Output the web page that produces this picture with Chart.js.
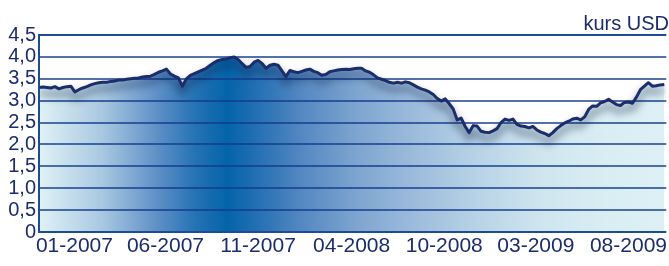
<!DOCTYPE html>
<html lang="pl">
<head>
<meta charset="utf-8">
<title>kurs USD</title>
<script src="https://cdn.jsdelivr.net/npm/chart.js@4.4.1/dist/chart.umd.min.js"></script>
<style>
    html, body {
        margin: 0;
        padding: 0;
        background: #ffffff;
    }
    #chartBox {
        width: 669px;
        height: 266px;
        overflow: hidden;
    }
</style>
</head>
<body>
<div id="chartBox">
    <canvas id="usdChart" width="669" height="266"></canvas>
</div>
<script>
// Weekly USD rate (PLN), one value per week
const rates = [
    3.30, 3.31, 3.30, 3.29, 3.32, 3.27, 3.30, 3.32, 3.33, 3.20,
    3.25, 3.29, 3.32, 3.36, 3.39, 3.41, 3.42, 3.42, 3.44, 3.45,
    3.47, 3.47, 3.49, 3.50, 3.51, 3.52, 3.54, 3.55, 3.56, 3.60,
    3.65, 3.68, 3.72, 3.61, 3.56, 3.52, 3.33, 3.50, 3.58, 3.62,
    3.66, 3.70, 3.74, 3.81, 3.87, 3.92, 3.94, 3.95, 3.98, 4.00,
    3.94, 3.85, 3.76, 3.78, 3.88, 3.92, 3.85, 3.74, 3.81, 3.83,
    3.81, 3.68, 3.55, 3.69, 3.66, 3.64, 3.67, 3.70, 3.72, 3.67,
    3.64, 3.58, 3.60, 3.66, 3.68, 3.70, 3.71, 3.72, 3.71, 3.73,
    3.74, 3.74, 3.68, 3.65, 3.59, 3.52, 3.49, 3.46, 3.42, 3.40,
    3.42, 3.40, 3.43, 3.41, 3.36, 3.31, 3.27, 3.24, 3.20, 3.14,
    3.05, 2.99, 3.04, 2.93, 2.81, 2.56, 2.60, 2.41, 2.27, 2.43,
    2.42, 2.30, 2.28, 2.27, 2.31, 2.36, 2.50, 2.58, 2.55, 2.58,
    2.46, 2.42, 2.41, 2.38, 2.41, 2.33, 2.28, 2.25, 2.20, 2.27,
    2.36, 2.43, 2.49, 2.53, 2.58, 2.60, 2.56, 2.63, 2.80, 2.88,
    2.87, 2.95, 2.98, 3.03, 2.97, 2.91, 2.89, 2.96, 2.97, 2.94,
    3.08, 3.25, 3.33, 3.41, 3.33, 3.34, 3.36, 3.37
];

// Where the month labels sit (in weeks from the first value)
const tickWeeks = [8.9, 31.75, 55, 78.5, 101.75, 124.75, 148];
const tickLabels = ['01-2007', '06-2007', '11-2007', '04-2008', '10-2008', '03-2009', '08-2009'];

// Y axis range
const yMin = 0;
const yMax = 4.5;
const yStep = 0.5;

const FONT = "'Liberation Sans', Arial, sans-serif";
const NAVY = '#1b2d6b';

document.addEventListener('DOMContentLoaded', function() {
    initChart();
});

// Horizontal blue fill, dark around late 2007
function fillGradient(context) {
    const chart = context.chart;
    const area = chart.chartArea;
    if (!area) {
        return '#9dbcdc';
    }
    const g = chart.ctx.createLinearGradient(area.left, 0, area.right, 0);
    g.addColorStop(0.00, '#dff2f6');
    g.addColorStop(0.10, '#a9c8e1');
    g.addColorStop(0.19, '#5d8fc6');
    g.addColorStop(0.25, '#2472b4');
    g.addColorStop(0.30, '#0464a9');
    g.addColorStop(0.34, '#1f6db2');
    g.addColorStop(0.42, '#5588c2');
    g.addColorStop(0.51, '#7fa6d0');
    g.addColorStop(0.60, '#9dbcdc');
    g.addColorStop(0.70, '#b8d3e6');
    g.addColorStop(0.80, '#cfe5ef');
    g.addColorStop(0.90, '#d9eef3');
    g.addColorStop(1.00, '#dcf0f5');
    return g;
}

// Grid lines go over the fill but under the rate line.
// Datasets are drawn last index first, so the fill (index 1) comes before the line (index 0).
const gridOverFill = {
    id: 'gridOverFill',
    beforeDatasetDraw(chart, args) {
        if (args.index !== 0) return;
        const ctx = chart.ctx;
        const area = chart.chartArea;
        const yScale = chart.scales.y;
        ctx.save();
        ctx.lineWidth = 2;
        ctx.strokeStyle = 'rgba(18, 58, 140, 0.72)';
        yScale.ticks.forEach(t => {
            if (t.value === yMin || t.value === yMax) return;
            const y = Math.round(yScale.getPixelForValue(t.value));
            ctx.beginPath();
            ctx.moveTo(area.left, y);
            ctx.lineTo(area.right, y);
            ctx.stroke();
        });
        ctx.restore();
        // soft shadow under the rate line
        ctx.save();
        ctx.shadowColor = 'rgba(5, 20, 55, 0.75)';
        ctx.shadowBlur = 8;
        ctx.shadowOffsetY = 6;
    },
    afterDatasetDraw(chart, args) {
        if (args.index !== 0) return;
        chart.ctx.restore();
    },
    afterDatasetsDraw(chart) {
        const ctx = chart.ctx;
        const area = chart.chartArea;
        const yScale = chart.scales.y;
        ctx.save();
        ctx.lineWidth = 2;
        ctx.strokeStyle = '#1c4c94';
        [yMax, yMin].forEach(v => {
            const y = Math.round(yScale.getPixelForValue(v));
            ctx.beginPath();
            ctx.moveTo(area.left - 1, y);
            ctx.lineTo(area.right, y);
            ctx.stroke();
        });
        ctx.beginPath();
        ctx.moveTo(area.left, yScale.getPixelForValue(yMax));
        ctx.lineTo(area.left, yScale.getPixelForValue(yMin) + 1);
        ctx.stroke();
        ctx.restore();
    }
};

function initChart() {
    const points = rates.map((v, i) => ({ x: i, y: v }));
    const ctx = document.getElementById('usdChart').getContext('2d');

    new Chart(ctx, {
        type: 'line',
        data: {
            datasets: [
                {
                    label: 'kurs USD',
                    data: points,
                    borderColor: NAVY,
                    borderWidth: 3,
                    borderJoinStyle: 'round',
                    pointRadius: 0,
                    tension: 0,
                    fill: false
                },
                {
                    label: 'fill',
                    data: points,
                    borderWidth: 0,
                    pointRadius: 0,
                    tension: 0,
                    fill: 'origin',
                    backgroundColor: fillGradient
                }
            ]
        },
        options: {
            responsive: false,
            animation: false,
            devicePixelRatio: 1,
            layout: {
                padding: { left: 0, right: 0, top: 0, bottom: 0 }
            },
            plugins: {
                legend: { display: false },
                tooltip: { enabled: false },
                title: {
                    display: true,
                    text: 'kurs USD',
                    align: 'end',
                    color: NAVY,
                    font: { family: FONT, size: 20, weight: 'normal', lineHeight: 1 },
                    padding: { top: 14, bottom: 1 }
                }
            },
            scales: {
                x: {
                    type: 'linear',
                    min: 0,
                    max: rates.length - 0.5,
                    border: { display: false },
                    grid: { display: false, drawTicks: false },
                    afterBuildTicks: function(scale) {
                        scale.ticks = tickWeeks.map(w => ({ value: w }));
                    },
                    afterFit: function(scale) {
                        scale.height = 34;
                    },
                    ticks: {
                        autoSkip: false,
                        maxRotation: 0,
                        padding: 2,
                        color: NAVY,
                        font: { family: FONT, size: 21 },
                        callback: function(value) {
                            const i = tickWeeks.indexOf(value);
                            return i >= 0 ? tickLabels[i] : '';
                        }
                    }
                },
                y: {
                    min: yMin,
                    max: yMax,
                    border: { display: false },
                    grid: { display: false, drawTicks: false },
                    afterFit: function(scale) {
                        scale.width = 39;
                    },
                    ticks: {
                        stepSize: yStep,
                        autoSkip: false,
                        padding: 3,
                        color: NAVY,
                        font: { family: FONT, size: 20, lineHeight: 1 },
                        callback: function(value) {
                            return value === 0 ? '0' : value.toFixed(1).replace('.', ',');
                        }
                    }
                }
            }
        },
        plugins: [gridOverFill]
    });
}
</script>
</body>
</html>
